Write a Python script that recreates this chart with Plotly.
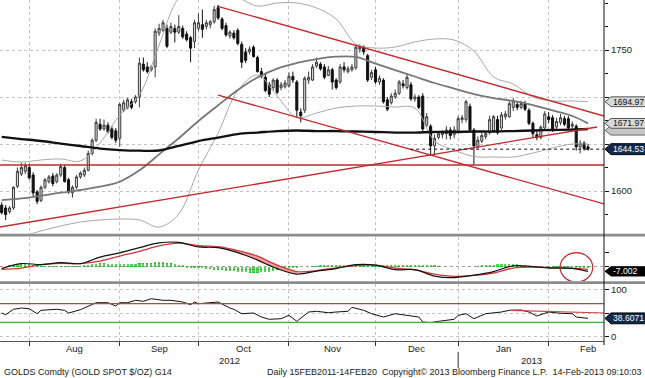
import pandas as pd
import plotly.graph_objects as go

FONT = "Liberation Sans"

# ---------------- data ----------------
dates = pd.bdate_range("2012-07-20", "2013-02-14")   # 150 daily bars
N = len(dates)
xi = list(range(N))

opens = [1585,1582,1578,1582,1605,1618,1621,1625,1617,1599,
         1590,1604,1610,1616,1610,1617,1625,1612,1598,1604,
         1615,1617,1622,1640,1654,1671,1666,1670,1666,1664,
         1656,1686,1689,1695,1695,1700,1735,1732,1729,1732,
         1768,1771,1773,1769,1773,1769,1773,1767,1763,1759,
         1773,1777,1775,1777,1780,1795,1783,1776,1765,1768,
         1771,1756,1748,1748,1753,1742,1727,1721,1713,1710,
         1718,1710,1711,1712,1722,1716,1684,1686,1718,1718,
         1733,1735,1732,1723,1729,1718,1716,1732,1727,1729,
         1731,1751,1753,1744,1721,1729,1716,1718,1697,1694,
         1700,1704,1714,1710,1713,1698,1700,1701,1670,1669,
         1648,1657,1660,1661,1665,1660,1664,1676,1676,1690,
         1665,1647,1653,1658,1662,1664,1676,1667,1679,1679,
         1689,1692,1689,1693,1686,1672,1660,1657,1667,1679,
         1678,1668,1673,1677,1677,1669,1669,1647,1651,1647]
highs = [1588,1585,1584,1605,1625,1630,1630,1629,1620,1601,
         1606,1614,1617,1619,1619,1629,1628,1614,1606,1617,
         1621,1625,1643,1656,1677,1677,1676,1673,1669,1667,
         1694,1697,1699,1698,1702,1742,1742,1737,1734,1773,
         1778,1782,1777,1779,1777,1787,1776,1770,1765,1782,
         1789,1793,1782,1782,1797,1798,1785,1779,1771,1771,
         1773,1759,1752,1754,1755,1744,1731,1725,1716,1720,
         1720,1716,1718,1726,1727,1718,1688,1722,1727,1735,
         1742,1737,1735,1733,1731,1720,1735,1737,1733,1735,
         1755,1756,1755,1746,1729,1732,1723,1720,1700,1704,
         1708,1718,1718,1725,1716,1703,1702,1704,1683,1671,
         1660,1664,1665,1669,1668,1669,1680,1681,1697,1693,
         1667,1658,1662,1664,1680,1681,1680,1684,1685,1696,
         1699,1695,1696,1696,1688,1674,1665,1670,1685,1684,
         1681,1678,1682,1680,1680,1674,1671,1654,1653,1650]
lows = [1575,1569,1576,1580,1603,1616,1618,1612,1594,1586,
        1588,1602,1608,1605,1608,1615,1609,1597,1593,1602,
        1613,1615,1621,1638,1652,1664,1664,1661,1655,1651,
        1647,1684,1687,1687,1693,1689,1727,1725,1727,1721,
        1765,1769,1752,1767,1758,1767,1762,1759,1737,1752,
        1770,1763,1772,1773,1778,1782,1771,1764,1762,1761,
        1755,1731,1736,1745,1742,1726,1720,1705,1700,1707,
        1703,1707,1709,1710,1715,1678,1673,1683,1714,1717,
        1731,1728,1719,1722,1708,1708,1714,1726,1725,1727,
        1729,1747,1745,1716,1718,1714,1713,1693,1685,1692,
        1698,1702,1709,1708,1696,1695,1687,1664,1668,1638,
        1638,1655,1656,1655,1655,1656,1662,1672,1673,1664,
        1628,1645,1651,1655,1660,1662,1660,1665,1676,1678,
        1685,1686,1687,1685,1670,1657,1654,1655,1665,1672,
        1663,1666,1670,1669,1665,1665,1643,1640,1643,1643]
closes = [1577,1575,1582,1604,1621,1625,1627,1614,1598,1589,
          1604,1612,1615,1608,1617,1626,1610,1599,1604,1615,
          1619,1622,1640,1654,1673,1666,1670,1663,1657,1654,
          1692,1694,1697,1689,1700,1736,1729,1727,1732,1770,
          1773,1779,1754,1775,1769,1775,1764,1761,1752,1779,
          1779,1772,1779,1780,1793,1784,1773,1766,1769,1763,
          1757,1737,1739,1751,1743,1727,1722,1707,1703,1718,
          1705,1713,1715,1722,1718,1686,1680,1720,1721,1732,
          1737,1730,1721,1729,1716,1710,1732,1729,1730,1732,
          1753,1753,1748,1718,1726,1716,1720,1695,1687,1701,
          1704,1716,1712,1721,1698,1700,1689,1666,1679,1648,
          1656,1661,1662,1665,1659,1665,1677,1678,1695,1665,
          1648,1654,1659,1661,1676,1679,1662,1681,1682,1693,
          1696,1689,1693,1687,1672,1661,1657,1668,1682,1676,
          1665,1674,1678,1671,1667,1671,1647,1651,1645,1644.53]

# overlay studies, read weekly
ov_idx = [0,5,10,15,20,25,30,35,40,45,50,55,60,65,70,75,80,85,90,95,
          100,105,110,115,120,125,130,135,140,145,149]
bb_upper = [1633.0,1630.9,1633.0,1634.1,1631.9,1651.1,1680.9,1702.1,1755.3,1805.3,
            1819.2,1816.0,1806.4,1796.8,1800.0,1800.0,1794.7,1783.0,1756.4,1752.1,
            1753.2,1758.5,1761.7,1760.6,1748.9,1721.3,1713.8,1700.0,1695.8,1695.8,1694.97]
bb_lower = [1550.0,1552.1,1557.5,1562.8,1567.0,1569.2,1570.2,1569.2,1561.7,1575.6,
            1622.4,1661.7,1706.8,1723.4,1701.1,1678.2,1683.0,1688.3,1690.4,1690.4,
            1689.4,1688.3,1653.2,1643.6,1636.7,1636.2,1636.2,1640.4,1645.8,1650.0,1650.0]
ma_mid = [1590.4,1592.2,1595.0,1598.2,1601.1,1604.6,1609.9,1622.0,1639.0,1656.1,
          1674.5,1691.2,1707.5,1720.8,1730.3,1736.2,1740.4,1742.9,1742.6,1735.6,
          1728.7,1721.8,1714.9,1709.0,1703.2,1698.9,1695.8,1691.5,1685.7,1679.8,1671.97]
ma_200 = [1657.5,1655.3,1653.2,1650.5,1647.9,1645.2,1643.6,1642.9,1643.1,1647.9,
          1653.2,1656.9,1660.6,1662.2,1663.8,1664.4,1663.8,1663.8,1663.3,1662.8,
          1662.2,1662.2,1662.8,1662.8,1663.3,1663.3,1663.8,1664.4,1664.9,1665.4,1666.0]

# drawn trend lines: (bar index, price)
tl_down_hi = ([54.7, 153.06], [1796.8, 1679.8])
tl_down_lo = ([55.0, 153.06], [1702.1, 1586.2])
tl_up = ([-0.43, 151.3], [1561.7, 1668.1])
support_level = 1627.7

# MACD
macd = [-3.1,3.9,2.5,5.3,3.9,13.0,19.0,26.3,33.0,33.7,
        27.3,26.3,19.3,8.8,-3.1,-10.8,-6.6,-3.1,2.5,1.8,
        -4.6,-4.5,-13.6,-15.7,-12.4,-7.3,0.7,-0.4,-2.4,-2.8,-7.002]
signal = [-4.2,-2.4,2.5,4.2,3.9,7.4,14.4,21.1,28.8,32.6,
          29.1,27.7,22.2,14.4,1.8,-7.3,-5.9,-2.0,1.0,1.8,
          -2.4,-4.9,-10.8,-14.0,-12.6,-9.4,-2.4,-1.0,-1.7,-2.4,-4.2]
hist = [0,0,1.4,2.8,4.2,4.9,4.9,4.2,2.8,1.4,
        0.7,0.7,0.7,0.7,0.7,0.7,0.7,0.7,0.7,0.7,1.0,1.4,2.1,
        3.5,4.2,4.9,4.9,4.2,3.5,3.5,4.2,4.2,4.2,4.2,4.2,4.9,4.9,4.9,5.6,6.3,7.0,6.3,5.6,4.9,4.2,2.8,1.4,
        -1.4,-2.1,-2.1,-2.1,-2.1,-2.8,-3.5,-4.2,-4.9,-4.9,-5.6,-6.3,-6.3,-7.0,-7.7,-7.7,-8.4,-8.4,-8.4,
        -7.7,-7.7,-7.0,-5.6,-4.2,-2.8,-2.1,-1.4,
        -0.7,-0.7,0,0,0,0.7,0.7,
        2.1,2.1,2.1,2.1,2.8,2.8,2.8,2.8,2.8,2.8,2.8,2.8,2.8,2.8,2.8,2.1,2.1,2.1,2.1,2.1,2.1,2.1,2.1,2.1,2.1,2.1,2.1,
        2.1,2.1,1.4,
        0.7,0,0,0,0,0,0,0,0,0,0.7,
        1.4,2.1,2.8,2.8,3.5,3.5,4.2,4.2,4.2,3.5,2.8,1.4,
        0.7,0,0,0,0,0.7,
        0.7,0.7,0.7,0.7,0.7,0,-0.7,-1.4,-1.4,-2.1]

# RSI
rsi_idx = [0,1,3,5,7,9,10,14,16,17,20,22,24,27,29,30,32,34,36,38,41,43,46,48,49,50,53,55,
           58,59,61,64,66,68,71,73,75,78,80,83,85,88,89,92,94,97,100,103,106,107,109,111,
           115,116,118,120,123,127,129,132,134,136,139,142,145,146,149]
rsi_val = [50,46.4,57.9,60.6,59.1,48.5,55.7,57.9,55.7,50,57,64.9,71.9,71.9,64.9,71.9,71.9,77,74.9,
           80.4,77,77,73.4,67.7,73.4,69.8,71.9,73.4,60.6,57.9,48.5,50,41.5,36.6,37.9,45.1,32.3,
           52.1,53.6,50.6,52.1,53.6,62.1,55.7,48.5,41.5,48.5,45.1,41.5,30.9,29.4,32.3,36.6,45.1,
           48.5,37.9,48.5,52.1,55.7,56.4,52.1,43.6,52.1,49.4,48.5,41.5,38.6071]
rsi_trend = ([129.2, 153.06], [55.7, 50.0])
rsi_hi, rsi_lo = 70, 30

# ---------------- layout geometry ----------------
W, H = 645, 378
MR, MB = 41, 37
PW, PH = W - MR, H - MB          # plot area 604 x 341
def py(px):                      # pixel row -> paper y
    return (PH - px) / PH
def px_(p):                      # pixel column -> paper x
    return p / PW

XR = [-0.43, 153.06]
month_start = [i for i in range(1, N) if dates[i].month != dates[i - 1].month]
bounds = [i - 1 for i in month_start]
mnames = [dates[i].strftime("%b") for i in month_start]
mid = [(bounds[k] + bounds[k + 1]) / 2 for k in range(len(bounds) - 1)] + [bounds[-1] + 10]
year_b = [bounds[k] for k, i in enumerate(month_start) if dates[i].month == 1][0]

RED = "#c3282f"
GRID = "#c4c4c4"

fig = go.Figure()

# main panel overlays
fig.add_trace(go.Scatter(x=ov_idx, y=bb_upper, mode="lines", line=dict(color="#a8a8a8", width=1, shape="spline"), xaxis="x", yaxis="y"))
fig.add_trace(go.Scatter(x=ov_idx, y=bb_lower, mode="lines", line=dict(color="#a8a8a8", width=1, shape="spline"), xaxis="x", yaxis="y"))
fig.add_trace(go.Scatter(x=ov_idx, y=ma_mid, mode="lines", line=dict(color="#777777", width=1.8, shape="spline"), xaxis="x", yaxis="y"))
fig.add_trace(go.Scatter(x=ov_idx, y=ma_200, mode="lines", line=dict(color="#111111", width=2.3, shape="spline"), xaxis="x", yaxis="y"))
fig.add_trace(go.Candlestick(x=xi, open=opens, high=highs, low=lows, close=closes,
                             increasing=dict(line=dict(color="#3c3c3c", width=1), fillcolor="#d9d9d9"),
                             decreasing=dict(line=dict(color="#111111", width=1), fillcolor="#111111"),
                             whiskerwidth=0, xaxis="x", yaxis="y"))

# MACD panel
seg = [k for k in range(len(ov_idx)) if 45 <= ov_idx[k] <= 75]
fx = [ov_idx[k] for k in seg] + [ov_idx[k] for k in reversed(seg)]
fy = [signal[k] for k in seg] + [macd[k] for k in reversed(seg)]
fig.add_trace(go.Scatter(x=fx, y=fy, fill="toself", fillcolor="rgba(238,140,140,0.85)", mode="lines",
                         line=dict(width=0, shape="spline"), xaxis="x2", yaxis="y2"))
fig.add_trace(go.Bar(x=xi, y=hist, width=0.55,
                     marker=dict(color="#22c322", line=dict(width=0),
                                 pattern=dict(shape="-", size=3, solidity=0.35, fgcolor="white", fillmode="overlay")),
                     xaxis="x2", yaxis="y2"))
fig.add_trace(go.Scatter(x=ov_idx, y=signal, mode="lines", line=dict(color="#d0363a", width=1.3, shape="spline"), xaxis="x2", yaxis="y2"))
fig.add_trace(go.Scatter(x=ov_idx, y=macd, mode="lines", line=dict(color="#111111", width=1.2, shape="spline"), xaxis="x2", yaxis="y2"))

# RSI panel
fig.add_trace(go.Scatter(x=rsi_idx, y=rsi_val, mode="lines", line=dict(color="#111111", width=1), xaxis="x3", yaxis="y3"))

shapes, ann = [], []
# trend lines
for (xs, ys) in (tl_down_hi, tl_down_lo, tl_up):
    shapes.append(dict(type="line", xref="x", yref="y", x0=xs[0], x1=xs[1], y0=ys[0], y1=ys[1],
                       line=dict(color=RED, width=1.3)))
shapes.append(dict(type="line", xref="paper", yref="y", x0=0, x1=1, y0=support_level, y1=support_level,
                   line=dict(color=RED, width=1.3)))
shapes.append(dict(type="line", xref="x", yref="y", x0=103.8, x1=XR[1], y0=closes[-1], y1=closes[-1],
                   line=dict(color="#111111", width=1, dash="dot")))
# RSI levels
shapes.append(dict(type="line", xref="paper", yref="y3", x0=0, x1=1, y0=rsi_hi, y1=rsi_hi, line=dict(color="#b5454a", width=1.2)))
shapes.append(dict(type="line", xref="paper", yref="y3", x0=0, x1=1, y0=rsi_lo, y1=rsi_lo, line=dict(color="#37b337", width=1.2)))
shapes.append(dict(type="line", xref="x3", yref="y3", x0=rsi_trend[0][0], x1=rsi_trend[0][1],
                   y0=rsi_trend[1][0], y1=rsi_trend[1][1], line=dict(color="#d04040", width=1.2)))
# MACD circle
shapes.append(dict(type="circle", xref="x2", yref="y2", x0=141.9, x1=150.2, y0=-22.0, y1=19.2,
                   line=dict(color="#c0282d", width=1.2)))
# separator bars
for a, b in ((233.7, 236.5), (281.3, 284.0)):
    shapes.append(dict(type="rect", xref="paper", yref="paper", x0=0, x1=px_(W + 2), y0=py(b), y1=py(a),
                       fillcolor="#8c8c8c", line=dict(width=0)))
# right axis line
shapes.append(dict(type="line", xref="paper", yref="paper", x0=1, x1=1, y0=py(345), y1=1,
                   line=dict(color="#111111", width=1)))
# year separator
shapes.append(dict(type="line", xref="x3", yref="paper", x0=year_b, x1=year_b, y0=py(368), y1=py(352),
                   line=dict(color="#333333", width=1)))

def tag(yref, val, half, fill, border, text, tcolor):
    tip, body, end = px_(605), px_(611), px_(W + 2)
    path = (f"M {tip},{val} L {body},{val + half} L {end},{val + half} "
            f"L {end},{val - half} L {body},{val - half} Z")
    shapes.append(dict(type="path", xref="paper", yref=yref, path=path, fillcolor=fill,
                       line=dict(color=border, width=1), layer="above"))
    if text:
        ann.append(dict(xref="paper", yref=yref, x=px_(611), y=val, text=text, showarrow=False,
                        xanchor="left", yanchor="middle", font=dict(family=FONT, size=8.6, color=tcolor)))

tag("y", ma_200[-1] - 1.5, 5.0, "#c6c6c6", "#6a6a6a", "", "#000")
tag("y", bb_upper[-1], 5.2, "#d9d9d9", "#555555", f"{bb_upper[-1]:.2f}", "#111111")
tag("y", ma_mid[-1], 5.2, "#d9d9d9", "#555555", f"{ma_mid[-1]:.2f}", "#111111")
tag("y", closes[-1], 5.8, "#13294b", "#000000", f"{closes[-1]:.2f}", "#ffffff")
tag("y2", macd[-1], 6.5, "#000000", "#000000", f"{macd[-1]:.3f}", "#ffffff")
tag("y3", rsi_val[-1], 11.5, "#13294b", "#000000", f"{rsi_val[-1]:.4f}", "#ffffff")

# month / year labels and footer
for m, name in zip(mid, mnames):
    ann.append(dict(xref="x3", yref="paper", x=m, y=py(348), text=name, showarrow=False,
                    xanchor="center", yanchor="middle", font=dict(family=FONT, size=9.5, color="#222")))
ann.append(dict(xref="x3", yref="paper", x=(XR[0] + year_b) / 2, y=py(360), text=str(dates[0].year), showarrow=False,
                font=dict(family=FONT, size=9.5, color="#222"), yanchor="middle"))
ann.append(dict(xref="x3", yref="paper", x=(year_b + XR[1]) / 2, y=py(360), text=str(dates[-1].year), showarrow=False,
                font=dict(family=FONT, size=9.5, color="#222"), yanchor="middle"))
ann.append(dict(xref="paper", yref="paper", x=px_(2), y=py(372), text="GOLDS Comdty (GOLD SPOT $/OZ) G14",
                showarrow=False, xanchor="left", yanchor="middle", font=dict(family=FONT, size=9, color="#222")))
ann.append(dict(xref="paper", yref="paper", x=px_(644), y=py(372),
                text="Daily 15FEB2011-14FEB20  Copyright\u00a9 2013 Bloomberg Finance L.P.  14-Feb-2013 09:10:03",
                showarrow=False, xanchor="right", yanchor="middle", font=dict(family=FONT, size=9, color="#222")))

xcommon = dict(range=XR, tickvals=bounds, ticktext=[""] * len(bounds), showgrid=True, gridcolor=GRID,
               griddash="dot", gridwidth=1, zeroline=False, fixedrange=True)
tickfont = dict(family=FONT, size=9.5, color="#222")

fig.update_layout(
    width=W, height=H, margin=dict(l=0, r=MR, t=0, b=MB, autoexpand=False),
    paper_bgcolor="white", plot_bgcolor="white", showlegend=False,
    bargap=0, boxgap=0.25,
    shapes=shapes, annotations=ann,
    xaxis=dict(**xcommon, anchor="y", ticks="", rangeslider=dict(visible=False)),
    xaxis2=dict(**xcommon, anchor="y2", ticks=""),
    xaxis3=dict(**xcommon, anchor="y3", ticks="outside", ticklen=4, tickcolor="#333",
                showline=True, linecolor="#555", linewidth=1),
    yaxis=dict(domain=[py(233.7), 1], range=[1554.6, 1803.2], side="right",
               tickvals=[1600, 1650, 1700, 1750], ticktext=["1600", "", "", "1750"],
               ticks="outside", ticklen=4, tickcolor="#111",
               tickfont=tickfont, showgrid=True, gridcolor=GRID, griddash="dot", zeroline=False,
               minor=dict(tickvals=[1575, 1625, 1675, 1725, 1775, 1800], ticks="outside", ticklen=3,
                          tickcolor="#111", showgrid=False),
               fixedrange=True, anchor="x"),
    yaxis2=dict(domain=[py(281.3), py(236.5)], range=[-20.98, 41.96], side="right",
                tickvals=[0], ticktext=[""], ticks="outside", ticklen=4, tickcolor="#111",
                showgrid=True, gridcolor="#a0a0a0", griddash="dot", zeroline=False,
                minor=dict(tickvals=[20], ticks="outside", ticklen=4, tickcolor="#111", showgrid=False),
                fixedrange=True, anchor="x2"),
    yaxis3=dict(domain=[0, py(284)], range=[-9.57, 111.7], side="right",
                tickvals=[0, 50, 100], ticktext=["0", "", "100"],
                ticks="outside", ticklen=4, tickcolor="#111", tickfont=tickfont,
                showgrid=True, gridcolor=GRID, griddash="dot", zeroline=False,
                fixedrange=True, anchor="x3"),
)

fig.write_html("out.html", config={"displayModeBar": False},
               post_script="document.body.style.margin='0px';document.body.style.overflow='hidden';")
